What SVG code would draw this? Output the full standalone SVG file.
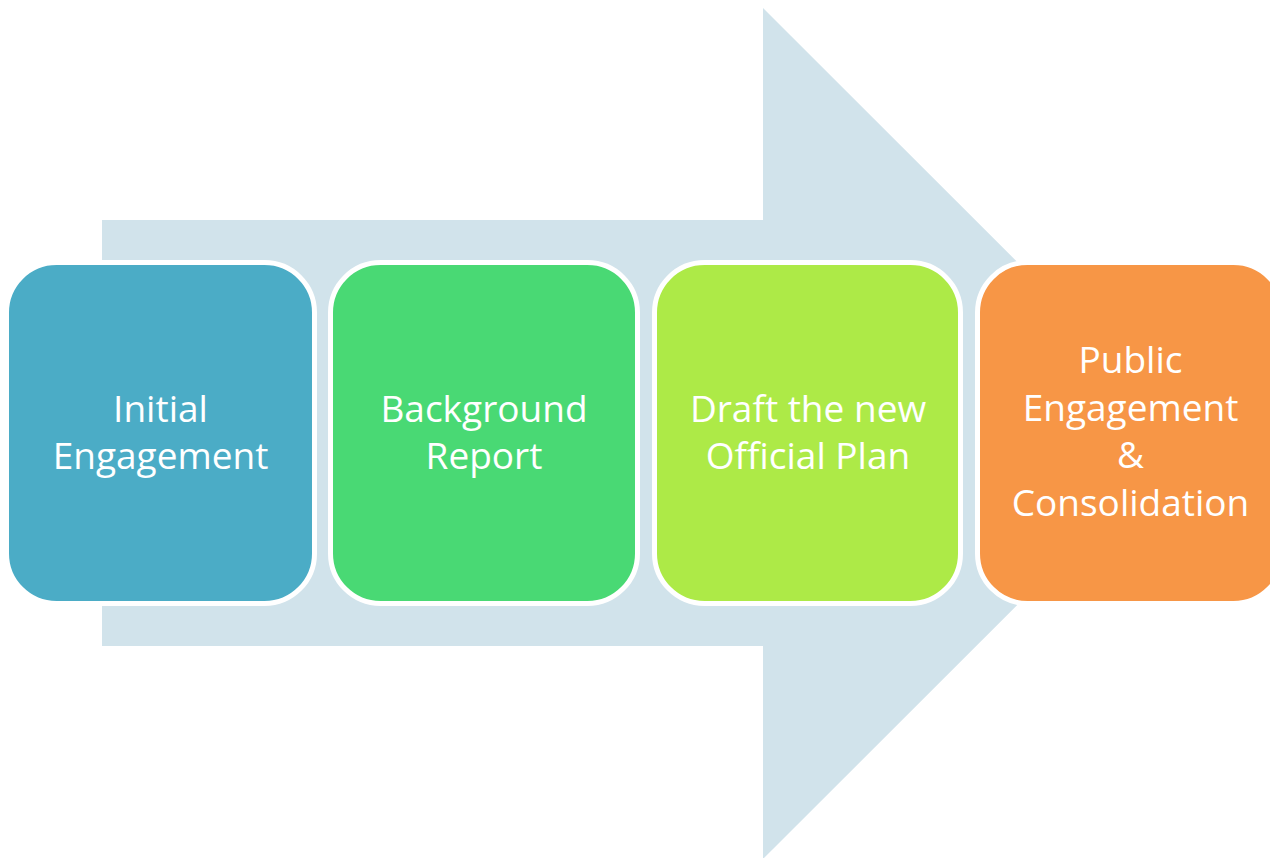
<svg xmlns="http://www.w3.org/2000/svg" width="1270" height="858" viewBox="0 0 1270 858">
<style>
.box{stroke:#FFFFFF;stroke-width:5}
.lbl{font-family:"Open Sans","Liberation Sans",sans-serif;font-size:37px;fill:#FFFFFF;text-anchor:middle}
</style>
<rect width="1270" height="858" fill="#FFFFFF"/>
<g id="arrow">
<polygon points="102,220 763,220 763,8 1189,433.5 763,859 763,646 102,646" fill="#D1E3EB"/>
</g>
<g id="node1">
<rect class="box" x="6.5" y="262.5" width="308" height="341" rx="50" fill="#4BACC6"/>
<text class="lbl" x="160.5" y="422">Initial</text>
<text class="lbl" x="160.5" y="469">Engagement</text>
</g>
<g id="node2">
<rect class="box" x="330.5" y="262.5" width="307" height="341" rx="50" fill="#49D974"/>
<text class="lbl" x="484" y="422">Background</text>
<text class="lbl" x="484" y="469">Report</text>
</g>
<g id="node3">
<rect class="box" x="654.5" y="262.5" width="306" height="341" rx="50" fill="#ADEA47"/>
<text class="lbl" x="808" y="422">Draft the new</text>
<text class="lbl" x="808" y="469">Official Plan</text>
</g>
<g id="node4">
<rect class="box" x="977.5" y="262.5" width="306" height="341" rx="50" fill="#F79646"/>
<text class="lbl" x="1130.5" y="373">Public</text>
<text class="lbl" x="1130.5" y="421">Engagement</text>
<text class="lbl" x="1130.5" y="468">&amp;</text>
<text class="lbl" x="1130.5" y="516">Consolidation</text>
</g>
<g id="connectors"></g>
</svg>
